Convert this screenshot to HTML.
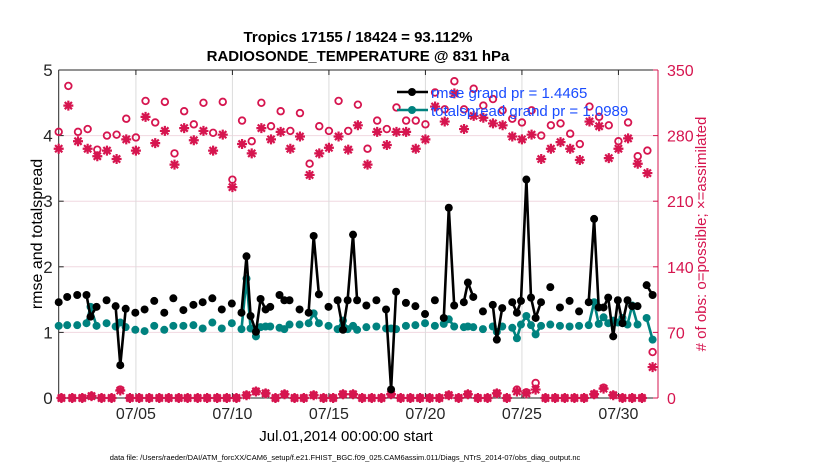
<!DOCTYPE html>
<html><head><meta charset="utf-8"><style>
html,body{margin:0;padding:0;background:#fff;width:830px;height:470px;overflow:hidden}
svg{display:block;font-family:"Liberation Sans",sans-serif}
</style></head><body>
<svg id="chart" width="830" height="470" viewBox="0 0 830 470">
<text x="358" y="42" text-anchor="middle" font-size="15" font-weight="bold">Tropics 17155 / 18424 = 93.112%</text>
<text x="358" y="61" text-anchor="middle" font-size="15" font-weight="bold">RADIOSONDE_TEMPERATURE @ 831 hPa</text>
<text transform="translate(42,234) rotate(-90)" text-anchor="middle" font-size="16">rmse and totalspread</text>
<text transform="translate(706,234) rotate(-90)" text-anchor="middle" font-size="15" fill="#d6154f"># of obs: o=possible; ×=assimilated</text>
<text x="346" y="441" text-anchor="middle" font-size="15">Jul.01,2014 00:00:00 start</text>
<text x="345" y="460" text-anchor="middle" font-size="7.5">data file: /Users/raeder/DAI/ATM_forcXX/CAM6_setup/f.e21.FHIST_BGC.f09_025.CAM6assim.011/Diags_NTrS_2014-07/obs_diag_output.nc</text>
<g id="plot"></g>
</svg>
<script>
const times=[0,0.44,0.96,1.44,1.65,1.96,2.48,2.95,3.19,3.47,3.97,4.45,4.95,5.47,5.94,6.46,6.98,7.46,7.96,8.45,8.97,9.47,9.73,9.94,10.22,10.46,10.72,10.96,11.44,11.69,11.96,12.48,12.95,13.21,13.48,13.98,14.45,14.73,14.97,15.25,15.46,15.94,16.46,16.96,17.22,17.48,17.99,18.48,18.98,19.49,19.95,20.21,20.49,20.99,21.20,21.48,21.98,22.49,22.70,22.98,23.50,23.74,23.95,24.23,24.47,24.71,24.99,25.47,25.97,26.47,26.96,27.46,27.74,27.98,28.23,28.47,28.73,28.97,29.21,29.47,29.71,29.99,30.46,30.77];
const rmse=[1.46,1.54,1.57,1.57,1.24,1.39,1.49,1.40,0.50,1.36,1.30,1.35,1.48,1.30,1.52,1.34,1.42,1.46,1.52,1.35,1.44,1.30,2.16,1.25,1.01,1.51,1.35,1.39,1.57,1.49,1.49,1.35,1.30,2.47,1.58,1.39,1.49,1.04,1.49,2.49,1.49,1.41,1.49,1.35,0.13,1.62,1.45,1.40,1.28,1.49,1.22,2.90,1.41,1.46,1.76,1.54,1.32,1.42,0.89,1.37,1.46,1.30,1.48,3.33,1.53,1.22,1.46,1.69,1.38,1.48,1.32,1.46,2.73,1.38,1.38,1.53,0.94,1.49,1.14,1.49,1.40,1.40,1.72,1.57];
const spread=[1.10,1.11,1.11,1.14,1.39,1.10,1.14,1.09,1.15,1.08,1.04,1.02,1.10,1.04,1.10,1.10,1.11,1.06,1.15,1.06,1.14,1.05,1.82,1.06,0.94,1.08,1.09,1.09,1.07,1.05,1.12,1.12,1.14,1.29,1.14,1.10,1.05,1.18,1.05,1.10,1.04,1.08,1.09,1.06,1.06,1.05,1.10,1.11,1.14,1.10,1.13,1.20,1.09,1.08,1.09,1.08,1.05,1.09,1.01,1.09,1.07,0.91,1.12,1.25,1.11,0.97,1.10,1.12,1.10,1.09,1.10,1.11,1.46,1.13,1.23,1.14,1.18,1.15,1.22,1.12,1.41,1.12,1.22,0.89];
const obsTimes=[0,0.5,1,1.5,2,2.5,3,3.5,4,4.5,5,5.5,6,6.5,7,7.5,8,8.5,9,9.5,10,10.5,11,11.5,12,12.5,13,13.5,14,14.5,15,15.5,16,16.5,17,17.5,18,18.5,19,19.5,20,20.5,21,21.5,22,22.5,23,23.5,24,24.5,25,25.5,26,26.5,27,27.5,28,28.5,29,29.5,30,30.5];
const obsPossible=[284,333,284,287,265,280,281,298,278,317,294,316,261,306,292,315,283,316,233,296,274,315,290,306,285,304,250,290,285,317,285,313,266,296,287,310,296,296,292,326,308,338,308,330,312,319,307,298,294,307,280,291,293,282,271,311,300,291,274,294,258,264];
const obsAssim=[266,312,274,266,258,264,255,276,264,300,272,285,249,288,275,285,264,281,225,271,261,288,276,284,266,279,238,261,267,279,265,291,249,284,270,284,284,266,276,311,295,325,287,301,299,293,291,279,276,281,255,266,273,266,254,295,290,256,266,277,250,240];
const lowTimes=[0.14,0.70,1.22,1.70,2.22,2.74,3.19,3.69,4.17,4.69,5.21,5.70,6.22,6.68,7.20,7.69,8.21,8.71,9.21,9.73,10.22,10.72,11.23,11.70,12.22,12.70,13.21,13.72,14.22,14.73,15.25,15.72,16.22,16.72,17.22,17.72,18.22,18.72,19.22,19.72,20.21,20.72,21.20,21.72,22.22,22.70,23.22,23.74,24.23,24.71,25.22,25.72,26.22,26.72,27.22,27.74,28.23,28.73,29.21,29.71,30.22,30.77];
const lowPossible=[0,0,0,2,0,0,9,0,0,0,0,0,0,0,0,0,0,0,0,3,7,5,0,4,0,0,3,0,0,4,4,0,0,0,4,0,0,0,0,0,3,0,4,0,0,5,0,9,6,16,0,0,0,0,0,4,11,3,0,0,0,49];
const lowAssim=[0,0,0,2,0,0,8,0,0,0,0,0,0,0,0,0,0,0,0,3,7,5,0,4,0,0,3,0,0,4,4,0,0,0,4,0,0,0,0,0,3,0,4,0,0,5,0,7,5,9,0,0,0,0,0,4,10,3,0,0,0,33];
const leftTicks=[0,1,2,3,4,5];
const rightTicks=[0,70,140,210,280,350];
const xTickDays=[4,9,14,19,24,29];
const xTickLabels=["07/05","07/10","07/15","07/20","07/25","07/30"];

const NS="http://www.w3.org/2000/svg";
const L=58.7,R=658,T=70,B=398;
const x0=0,x1=31.05;
const X=d=>L+(d-x0)/(x1-x0)*(R-L);
const YL=v=>B-v/5*(B-T);
const YR=c=>B-c/350*(B-T);
const PINK="#d6154f",TEAL="#00827f";
const g=document.getElementById('plot');
function mk(tag,attrs,parent){const e=document.createElementNS(NS,tag);for(const k in attrs)e.setAttribute(k,attrs[k]);(parent||g).appendChild(e);return e;}

leftTicks.forEach(v=>{const e=mk('line',{x1:L,x2:R,y1:YL(v),y2:YL(v),stroke:'#f0d8e0','stroke-width':1});

});
xTickDays.forEach(d=>{const e=mk('line',{x1:X(d),x2:X(d),y1:T,y2:B,stroke:'#dcdcdc','stroke-width':1});

});
let ax=mk('path',{d:`M${L},${T}H${R}M${L},${T}V${B}H${R}`,stroke:'#262626',fill:'none','stroke-width':1});


let ra=mk('line',{x1:R,x2:R,y1:T,y2:B,stroke:PINK,'stroke-width':1});


leftTicks.forEach(v=>{
 mk('line',{x1:L,x2:L+5,y1:YL(v),y2:YL(v),stroke:'#262626'});
 const t=mk('text',{x:L-6,y:YL(v)+6,'text-anchor':'end','font-size':17,fill:'#262626'});t.textContent=v;
 
 
});
rightTicks.forEach(c=>{
 mk('line',{x1:R-5,x2:R,y1:YR(c),y2:YR(c),stroke:PINK});
 const t=mk('text',{x:R+9,y:YR(c)+6,'font-size':16,fill:PINK});t.textContent=c;
 
 
});
xTickDays.forEach((d,i)=>{
 mk('line',{x1:X(d),x2:X(d),y1:B,y2:B-5,stroke:'#262626'});
 mk('line',{x1:X(d),x2:X(d),y1:T,y2:T+5,stroke:'#262626'});
 const t=mk('text',{x:X(d),y:B+21,'text-anchor':'middle','font-size':16,fill:'#262626'});t.textContent=xTickLabels[i];
 
 
});

function circ(cx,cy){const e=mk('circle',{cx:cx,cy:cy,r:3.3,fill:'none',stroke:PINK,'stroke-width':1.8});
 
 }
function star(cx,cy){const s=5;const e=mk('path',{d:`M${cx-s},${cy}H${cx+s}M${cx},${cy-s}V${cy+s}M${cx-3.6},${cy-3.6}L${cx+3.6},${cy+3.6}M${cx-3.6},${cy+3.6}L${cx+3.6},${cy-3.6}`,stroke:PINK,'stroke-width':2.2,fill:'none'});
 
 }
obsTimes.forEach((d,i)=>{circ(X(d),YR(obsPossible[i]));star(X(d),YR(obsAssim[i]));});
lowTimes.forEach((d,i)=>{circ(X(d),YR(lowPossible[i]));star(X(d),YR(lowAssim[i]));});

function series(vals,color,name){
 let dstr='';
 for(let i=0;i<times.length;i++){
  const px=X(times[i]).toFixed(1),py=YL(vals[i]).toFixed(1);
  if(i>0&&times[i]-times[i-1]<0.35)dstr+=`L${px},${py}`;else dstr+=`M${px},${py}`;
 }
 const p=mk('path',{d:dstr,stroke:color,'stroke-width':2.6,fill:'none','stroke-linejoin':'round'});
 
 
 times.forEach((d,i)=>{const c=mk('circle',{cx:X(d),cy:YL(vals[i]),r:4,fill:color});
  
  });
}
series(spread,TEAL,'totalspread');
series(rmse,'#000','rmse');

const lg=mk('g',{});


[['#000','rmse grand pr = 1.4465',92],[TEAL,'totalspread grand pr = 1.0989',110]].forEach(([c,txt,y])=>{
 mk('line',{x1:397,x2:428,y1:y,y2:y,stroke:c,'stroke-width':2.6},lg);
 mk('circle',{cx:412,cy:y,r:4,fill:c},lg);
 const t=mk('text',{x:431,y:y+6,'font-size':15,fill:'#1a4cff'},lg);t.textContent=txt;
 
 
});
</script>
</body></html>
